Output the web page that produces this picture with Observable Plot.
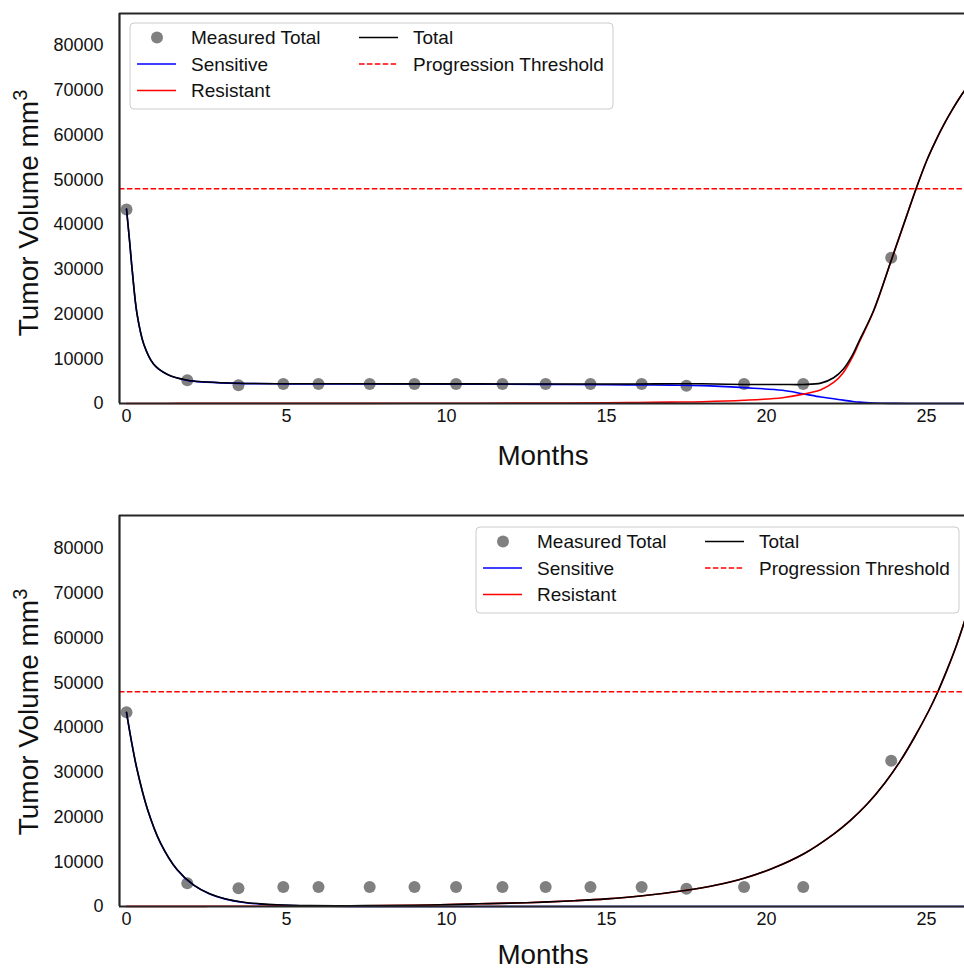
<!DOCTYPE html>
<html>
<head>
<meta charset="utf-8">
<script src="https://cdn.jsdelivr.net/npm/d3@7"></script>
<script src="https://cdn.jsdelivr.net/npm/@observablehq/plot@0.6"></script>
<style>
  body { margin: 0; background: #fff; }
  #wrap { width: 964px; height: 970px; overflow: hidden; background: #fff; }
  #wrap svg { display: block; }
</style>
</head>
<body>
<div id="wrap"></div>
<script>
// ---- measured data (shared by both panels) ----
const months = [0, 1.9, 3.5, 4.9, 6.0, 7.6, 9.0, 10.3, 11.75, 13.1, 14.5, 16.1, 17.5, 19.3, 21.15, 23.9];
const measured = [43400, 5200, 4100, 4350, 4350, 4350, 4350, 4350, 4350, 4350, 4350, 4350, 3950, 4350, 4350, 32600];

// ---- top panel model curves ----
const tTop = [0, 0.1, 0.18, 0.33, 0.54, 0.85, 1.27, 1.9, 2.5, 3.5, 5, 7, 9, 11, 13, 15, 16, 17, 18, 19.3, 20.5, 21.15, 21.7, 22.1, 22.4, 22.7, 22.9, 23.35, 23.9, 24.4, 24.66, 25.02, 25.3, 25.54, 25.8, 26.06, 26.3];
const topSensitive = [43450, 36000, 29650, 19960, 13240, 8760, 6515, 5170, 4780, 4500, 4395, 4365, 4345, 4320, 4270, 4200, 4150, 4100, 4000, 3540, 2950, 2150, 1450, 1050, 750, 450, 300, 120, 30, 10, 3, 0, 0, 0, 0, 0, 0];
const topResistant = [0, 0, 0, 0, 10, 10, 15, 20, 20, 20, 25, 35, 45, 60, 100, 160, 220, 300, 400, 720, 1300, 2100, 3100, 4700, 6900, 10550, 13700, 20680, 31970, 42330, 47697, 54500, 58900, 62300, 65600, 68600, 71000];
const topTotal = [43450, 36000, 29650, 19960, 13250, 8770, 6530, 5190, 4800, 4520, 4420, 4400, 4390, 4380, 4370, 4360, 4370, 4400, 4400, 4260, 4250, 4250, 4550, 5750, 7650, 11000, 14000, 20800, 32000, 42340, 47700, 54500, 58900, 62300, 65600, 68600, 71000];

// ---- bottom panel model curves ----
const tBottom = [0, 0.15, 0.33, 0.65, 1.06, 1.58, 2.1, 2.6, 3.1, 3.67, 4.2, 4.7, 5.75, 7, 8, 9.5, 11, 12.5, 14, 15, 16.06, 17.5, 18.4, 19.3, 20.2, 21.17, 22.1, 22.6, 23.15, 23.7, 24.19, 24.6, 25.07, 25.35, 25.65, 25.96, 26.3];
const bottomSensitive = [43380, 37100, 30600, 21850, 14220, 8230, 4760, 2810, 1650, 910, 520, 305, 100, 28, 10, 2, 0, 0, 0, 0, 0, 0, 0, 0, 0, 0, 0, 0, 0, 0, 0, 0, 0, 0, 0, 0, 0];
const bottomResistant = [20, 20, 20, 25, 25, 30, 35, 40, 45, 55, 65, 75, 100, 150, 220, 340, 600, 850, 1300, 1700, 2350, 3650, 4750, 6300, 8550, 11800, 16200, 19100, 22900, 27600, 32600, 37500, 43700, 47900, 53000, 58800, 66200];
const bottomTotal = [43400, 37120, 30620, 21875, 14245, 8260, 4795, 2850, 1695, 965, 585, 380, 200, 178, 230, 342, 600, 850, 1300, 1700, 2350, 3650, 4750, 6300, 8550, 11800, 16200, 19100, 22900, 27600, 32600, 37500, 43700, 47900, 53000, 58800, 66200];

// ---- threshold, ticks, labels ----
const threshold = 48000;
const xTicks = [0, 5, 10, 15, 20, 25];
const yTicks = [0, 10000, 20000, 30000, 40000, 50000, 60000, 70000, 80000];
const xLabel = "Months";
const yLabelMain = "Tumor Volume mm";
const yLabelSup = "3";
const legendLabels = ["Measured Total", "Sensitive", "Resistant", "Total", "Progression Threshold"];
const legendColors = ["#808080", "blue", "red", "black", "red"];

const FONT = "'Liberation Sans', Arial, Helvetica, sans-serif";
const SPINE = "#262626";
const xDomain = [-0.219, 26.19];

function rows(t, vals) { return t.map((m, i) => ({ m, v: vals[i] })); }

function drawPanel(cfg) {
  const pts = months.map((m, i) => ({ m, v: measured[i] }));
  const svg = Plot.plot({
    width: 964,
    height: 485,
    marginLeft: 119,
    marginRight: 0,
    marginTop: cfg.mt,
    marginBottom: cfg.mb,
    style: { fontFamily: FONT, fontSize: "18px", color: "#111", background: "white" },
    x: { domain: xDomain },
    y: { domain: [0, cfg.yMax] },
    marks: [
      Plot.dot(pts, { x: "m", y: "v", r: 6, fill: legendColors[0], stroke: null }),
      Plot.line(rows(cfg.t, cfg.sens), { x: "m", y: "v", stroke: legendColors[1], strokeWidth: 1.6, curve: "catmull-rom" }),
      Plot.line(rows(cfg.t, cfg.res), { x: "m", y: "v", stroke: legendColors[2], strokeWidth: 1.6, curve: "catmull-rom" }),
      Plot.line(rows(cfg.t, cfg.tot), { x: "m", y: "v", stroke: legendColors[3], strokeWidth: 1.6, curve: "catmull-rom" }),
      Plot.ruleY([threshold], { stroke: legendColors[4], strokeWidth: 1.4, strokeDasharray: "5.5,2.4" }),
      Plot.ruleX([xDomain[0]], { stroke: SPINE, strokeWidth: 2.2 }),
      Plot.ruleY([0], { stroke: SPINE, strokeWidth: 2.2 }),
      Plot.ruleY([cfg.yMax], { stroke: SPINE, strokeWidth: 2.2 }),
      Plot.axisX({ ticks: xTicks, tickSize: 0, tickPadding: 6, fontSize: 18, label: null }),
      Plot.axisY({ ticks: yTicks, tickSize: 0, tickPadding: 16, fontSize: 18, label: null, tickFormat: d3.format("d") })
    ]
  });

  const s = d3.select(svg);
  // x label
  s.append("text")
    .attr("x", 543).attr("y", cfg.monthsY)
    .attr("text-anchor", "middle")
    .attr("font-family", FONT).attr("font-size", 27.8).attr("fill", "#111")
    .text(xLabel);
  // y label
  const yl = s.append("text")
    .attr("transform", `translate(38,${cfg.ylabelY}) rotate(-90)`)
    .attr("text-anchor", "middle")
    .attr("font-family", FONT).attr("font-size", 28).attr("fill", "#111");
  yl.append("tspan").text(yLabelMain);
  yl.append("tspan").attr("font-size", 20).attr("dy", -11).text(yLabelSup);

  // legend
  const x0 = cfg.legendX, y0 = cfg.legendY;
  const g = s.append("g").attr("font-family", FONT).attr("font-size", 19).attr("text-anchor", "start");
  g.append("rect")
    .attr("x", x0).attr("y", y0).attr("width", 483).attr("height", 86).attr("rx", 4)
    .attr("fill", "white").attr("fill-opacity", 0.8)
    .attr("stroke", "#cccccc").attr("stroke-width", 1);
  const rowY = [y0 + 14.5, y0 + 41, y0 + 67.5];
  const layout = [
    { col: 0, row: 0, kind: "dot" },
    { col: 0, row: 1, kind: "line" },
    { col: 0, row: 2, kind: "line" },
    { col: 1, row: 0, kind: "line" },
    { col: 1, row: 1, kind: "dash" }
  ];
  const colHandle = [x0 + 7, x0 + 229];
  const colText = [x0 + 61, x0 + 283];
  layout.forEach((it, i) => {
    const y = rowY[it.row];
    const hx = colHandle[it.col];
    if (it.kind === "dot") {
      g.append("circle").attr("cx", hx + 20).attr("cy", y).attr("r", 6).attr("fill", legendColors[i]);
    } else {
      const ln = g.append("line").attr("x1", hx).attr("x2", hx + 39).attr("y1", y).attr("y2", y)
        .attr("stroke", legendColors[i]).attr("stroke-width", it.kind === "dash" ? 1.3 : 1.5);
      if (it.kind === "dash") ln.attr("stroke-dasharray", "5.5,2.4");
    }
    g.append("text").attr("x", colText[it.col]).attr("y", y).attr("dy", "0.35em")
      .attr("text-anchor", "start").attr("fill", "#111").text(legendLabels[i]);
  });
  return svg;
}

const wrap = document.getElementById("wrap");
wrap.appendChild(drawPanel({
  t: tTop, sens: topSensitive, res: topResistant, tot: topTotal,
  mt: 13, mb: 82, yMax: 87200,
  legendX: 130, legendY: 23, ylabelY: 213, monthsY: 465
}));
wrap.appendChild(drawPanel({
  t: tBottom, sens: bottomSensitive, res: bottomResistant, tot: bottomTotal,
  mt: 30, mb: 64, yMax: 87400,
  legendX: 476, legendY: 42, ylabelY: 227, monthsY: 479
}));
</script>
</body>
</html>
